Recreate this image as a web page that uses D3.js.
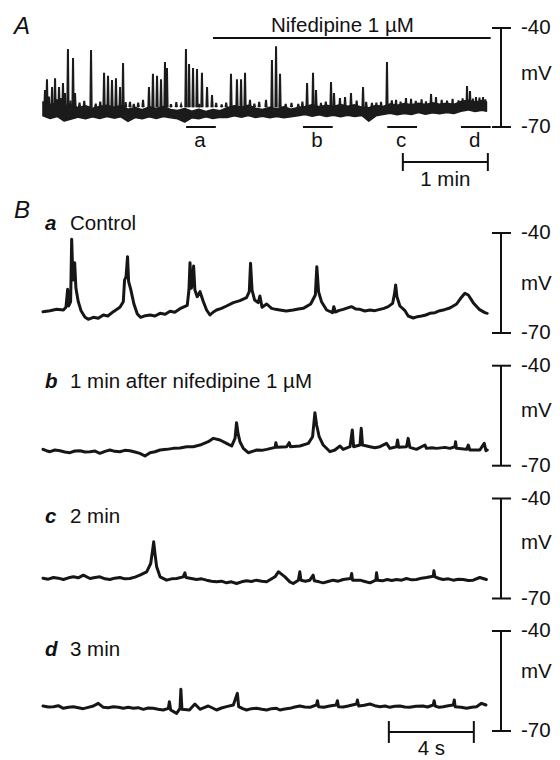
<!DOCTYPE html>
<html lang="en">
<head>
<meta charset="UTF-8">
<title>Nifedipine 1 µM traces</title>
<script src="https://d3js.org/d3.v7.min.js"></script>
<style>
  body { margin: 0; background: #fff; }
  svg { display: block; font-family: "Liberation Sans", Arial, sans-serif; }
  text { font-size: 20.5px; fill: #111; }
  .trace { fill: none; stroke: #161616; stroke-width: 3; stroke-linejoin: round; stroke-linecap: round; }
  .bar { stroke: #111; stroke-width: 2; fill: none; }
</style>
</head>
<body>
<div id="chart"></div>
<script>
// ---- panel A: slow record (time in s, potential in mV) ----
const bandTime = [0,5,10,15,20,25,30,35,40,45,50,55,60,65,70,75,80,85,90,95,100,105,110,115,120,125,130,135,140,145,150,155,160,165,170,175,180,185,190,195,200,205,210,215,220,225,230,235,240,245,250,255,260,265,270,275,280,285,290,295,300,305,310,313];
const bandTop = [-62.4,-63.2,-62.7,-63.6,-63.3,-64.2,-63.6,-64.3,-63.8,-63.4,-64.0,-63.5,-64.6,-64.1,-64.8,-63.9,-64.4,-63.8,-64.7,-65.0,-64.4,-65.2,-64.6,-65.3,-64.7,-65.1,-64.2,-63.6,-64.0,-63.4,-64.3,-64.7,-64.0,-64.5,-63.9,-64.6,-64.1,-63.8,-63.3,-63.9,-63.4,-63.8,-63.2,-63.7,-63.3,-64.0,-64.2,-63.5,-63.8,-63.0,-63.4,-62.9,-63.3,-62.8,-63.2,-62.7,-63.1,-62.8,-63.2,-62.3,-61.9,-62.4,-62.0,-62.4];
const bandBottom = [-66.6,-67.4,-66.8,-68.2,-67.6,-67.0,-67.5,-66.9,-67.4,-66.8,-67.3,-66.9,-68.3,-67.1,-67.5,-66.9,-67.4,-66.8,-67.2,-67.5,-68.5,-67.2,-67.5,-66.9,-67.4,-67.0,-67.1,-66.6,-67.0,-66.5,-67.1,-66.7,-67.2,-66.8,-67.2,-66.9,-66.6,-66.2,-66.7,-66.3,-66.8,-66.4,-66.9,-66.4,-66.8,-66.5,-68.2,-66.6,-66.2,-65.8,-66.3,-65.9,-66.2,-65.6,-66.1,-65.7,-66.0,-65.6,-65.9,-65.2,-64.8,-65.3,-64.9,-65.2];
const spikeTime = [1.4,2.8,6.4,8.5,11.3,14.1,15.5,17.6,21.2,22.6,33.9,43.1,45.9,48.7,51.5,54.4,56.5,61.4,70.6,74.8,77.6,80.5,83.3,86.1,87.5,100.9,103.1,105.9,108.7,112.2,115.8,119.3,132.7,136.9,139.8,142.6,146.1,157.4,161.6,164.5,167.3,186.4,190.6,192.7,203.3,205.4,209.6,213.2,217.4,225.9,232.2,238.6,242.8,249.2,256.2,259.8,273.9,277.4,299.3,301.4,305.6,310.6];
const spikePeak = [-58.8,-55.5,-57.9,-55.2,-57.9,-56.7,-59.7,-46.4,-49.1,-59.7,-46.7,-53.6,-54.5,-55.8,-55.2,-57.9,-50.6,-62.4,-61.8,-57.9,-53.9,-54.5,-55.5,-50.3,-52.1,-46.4,-50.9,-52.1,-52.4,-53.6,-57.9,-60.3,-53.9,-55.5,-55.5,-53.6,-61.8,-61.8,-49.7,-45.5,-53.9,-56.7,-53.6,-58.8,-56.4,-59.7,-61.2,-60.9,-59.7,-57.9,-62.7,-62.4,-50.3,-61.8,-61.2,-61.5,-60.0,-60.9,-57.6,-59.1,-60.9,-60.9];
// small events riding on the baseline
const smallTime = [4.2,9.8,12.6,19.4,25.8,29.1,37.2,40.4,58.3,64.1,67.2,90.3,94.1,97.5,110.4,122.2,126.1,129.3,149.2,152.6,171.3,175.4,180.2,183.1,196.2,199.6,221.4,228.1,235.3,246.2,252.4,263.1,267.2,270.3,281.4,285.2,289.1,293.3,296.2,303.4,308.1,312.2];
const smallPeak = [-60.8,-61.6,-61.2,-62.0,-62.6,-62.1,-62.9,-62.3,-62.5,-63.0,-62.6,-63.1,-62.5,-63.3,-63.0,-62.7,-63.2,-62.6,-62.9,-62.4,-63.0,-62.7,-63.0,-62.3,-62.7,-62.3,-62.0,-62.4,-62.6,-61.9,-62.3,-62.1,-61.6,-62.2,-61.8,-62.0,-61.5,-61.9,-61.3,-61.4,-61.1,-61.6];
const spikeBase = -64;
const segNames = ["a", "b", "c", "d"];
const segStart = [101, 183.5, 243, 295];
const segLength = 21;
const drugSpan = [120, 316];
const drugLabel = "Nifedipine 1 µM";
const minuteBar = [254, 314];

// ---- panel B: fast records (time in s, potential in mV) ----
const traceLetters = ["a", "b", "c", "d"];
const traceLabels = ["Control", "1 min after nifedipine 1 µM", "2 min", "3 min"];
const traceCtrl = [[0,-63.6],[0.33,-63.3],[0.64,-62.9],[0.96,-63.1],[1.08,-62.3],[1.16,-56.9],[1.21,-61.9],[1.30,-60.6],[1.35,-41.9],[1.41,-54.1],[1.49,-48.9],[1.55,-56.6],[1.66,-60.6],[1.79,-63.3],[1.98,-65.3],[2.13,-65.9],[2.37,-65.3],[2.60,-65.6],[2.84,-64.6],[3.05,-64.9],[3.31,-63.6],[3.62,-62.3],[3.78,-60.6],[3.84,-54.1],[3.91,-53.1],[3.98,-47.1],[4.03,-54.6],[4.13,-56.9],[4.28,-61.3],[4.44,-64.3],[4.60,-65.3],[4.82,-64.8],[5.04,-64.6],[5.27,-64.9],[5.51,-64.1],[5.75,-64.4],[5.98,-63.5],[6.20,-63.8],[6.45,-62.7],[6.79,-61.7],[6.87,-57.1],[6.92,-48.9],[6.98,-56.6],[7.04,-55.1],[7.09,-49.9],[7.15,-57.1],[7.26,-59.1],[7.39,-57.6],[7.55,-60.6],[7.70,-63.1],[7.86,-64.6],[8.02,-63.7],[8.17,-63.1],[8.40,-62.6],[8.64,-61.9],[8.96,-60.9],[9.27,-60.3],[9.58,-59.4],[9.71,-57.6],[9.77,-49.1],[9.84,-57.1],[9.96,-60.1],[10.13,-60.9],[10.21,-58.9],[10.31,-62.3],[10.53,-61.3],[10.76,-62.6],[10.95,-62.9],[11.15,-63.1],[11.45,-63.4],[11.78,-63.1],[12.02,-62.8],[12.25,-62.6],[12.60,-61.3],[12.82,-58.6],[12.89,-50.1],[12.97,-57.6],[13.11,-60.6],[13.35,-63.1],[13.63,-63.9],[13.69,-62.1],[13.76,-63.7],[13.95,-63.2],[14.13,-62.9],[14.52,-62.1],[14.72,-62.8],[14.92,-62.9],[15.15,-63.4],[15.39,-63.1],[15.62,-63.3],[15.86,-62.9],[16.05,-62.6],[16.25,-62.1],[16.46,-61.1],[16.55,-58.1],[16.60,-55.6],[16.66,-59.1],[16.80,-61.9],[17.04,-63.3],[17.19,-64.9],[17.43,-65.5],[17.62,-65.1],[17.82,-64.9],[18.02,-64.6],[18.21,-64.1],[18.45,-63.9],[18.68,-63.3],[18.90,-63.0],[19.15,-62.5],[19.47,-61.3],[19.66,-59.6],[19.86,-58.1],[20.02,-58.6],[20.25,-60.9],[20.53,-62.9],[20.80,-63.9],[20.91,-64.1]];
const trace1min = [[0,-65.1],[0.16,-65.5],[0.33,-65.8],[0.56,-65.3],[0.80,-65.5],[1.03,-65.9],[1.27,-66.1],[1.50,-65.6],[1.74,-65.5],[1.98,-65.9],[2.21,-65.8],[2.45,-65.6],[2.68,-66.3],[2.92,-65.7],[3.15,-65.3],[3.38,-65.7],[3.62,-65.8],[3.85,-65.4],[4.09,-65.5],[4.33,-65.9],[4.56,-66.3],[4.80,-67.1],[5.04,-66.1],[5.27,-65.8],[5.51,-65.3],[5.82,-65.1],[6.13,-64.8],[6.45,-64.7],[6.76,-64.3],[7.07,-64.3],[7.39,-63.8],[7.78,-62.8],[8.02,-61.8],[8.33,-62.3],[8.64,-63.3],[8.88,-64.1],[9.04,-61.8],[9.11,-57.1],[9.18,-60.3],[9.27,-62.8],[9.43,-64.8],[9.66,-66.1],[10.06,-65.3],[10.30,-65.4],[10.53,-65.1],[10.93,-64.5],[10.96,-63.1],[11.01,-64.5],[11.47,-64.3],[11.59,-63.1],[11.65,-64.3],[12.09,-64.1],[12.49,-63.3],[12.69,-61.3],[12.80,-54.1],[12.88,-57.8],[13.00,-61.3],[13.19,-63.8],[13.51,-65.8],[13.74,-65.3],[13.98,-64.1],[14.13,-65.1],[14.45,-64.3],[14.56,-59.3],[14.62,-64.3],[14.92,-63.8],[14.98,-58.8],[15.04,-63.8],[15.39,-64.3],[15.62,-64.6],[15.86,-64.3],[16.17,-63.3],[16.33,-64.8],[16.64,-64.3],[16.69,-62.3],[16.74,-64.5],[17.11,-64.3],[17.19,-61.8],[17.27,-64.5],[17.58,-65.1],[17.98,-63.8],[18.05,-64.8],[18.30,-64.6],[18.53,-64.8],[18.92,-64.5],[19.15,-64.8],[19.39,-64.3],[19.42,-62.8],[19.46,-64.8],[19.70,-64.9],[19.94,-65.1],[20.02,-63.8],[20.09,-65.3],[20.56,-65.3],[20.77,-63.3],[20.85,-65.5],[20.91,-65.3]];
const trace2min = [[0,-63.9],[0.25,-64.2],[0.49,-63.7],[0.72,-63.9],[0.96,-64.3],[1.20,-63.8],[1.43,-63.5],[1.66,-63.8],[1.90,-63.0],[2.21,-64.0],[2.45,-63.7],[2.68,-63.5],[2.92,-64.1],[3.15,-64.3],[3.38,-63.9],[3.62,-63.7],[3.85,-64.1],[4.09,-64.0],[4.33,-63.6],[4.56,-63.0],[4.88,-62.0],[5.07,-59.5],[5.16,-55.5],[5.21,-53.0],[5.27,-56.5],[5.35,-60.5],[5.51,-63.5],[5.82,-64.5],[6.05,-64.1],[6.29,-64.0],[6.60,-63.5],[6.68,-62.3],[6.73,-63.7],[6.98,-64.0],[7.23,-64.3],[7.46,-64.1],[7.70,-64.5],[7.93,-64.8],[8.17,-65.0],[8.40,-64.8],[8.64,-65.3],[8.87,-65.0],[9.11,-65.5],[9.35,-65.0],[9.58,-64.7],[9.81,-64.9],[10.05,-64.5],[10.30,-64.8],[10.53,-65.0],[10.92,-63.5],[11.08,-62.0],[11.15,-62.3],[11.39,-63.5],[11.62,-65.0],[11.78,-65.5],[12.02,-64.5],[12.09,-62.0],[12.14,-64.5],[12.35,-64.8],[12.56,-64.5],[12.72,-63.0],[12.77,-64.7],[13.00,-65.0],[13.19,-65.3],[13.42,-64.9],[13.66,-64.5],[13.90,-64.8],[14.13,-64.3],[14.48,-64.0],[14.53,-62.5],[14.57,-64.5],[14.92,-64.5],[15.15,-64.9],[15.39,-65.3],[15.67,-64.5],[15.70,-62.3],[15.75,-64.5],[15.98,-64.7],[16.20,-64.3],[16.42,-64.6],[16.64,-64.3],[16.88,-64.5],[17.11,-64.0],[17.35,-64.4],[17.58,-64.3],[17.82,-63.9],[18.05,-63.7],[18.37,-63.3],[18.40,-61.7],[18.45,-63.5],[18.65,-64.0],[18.84,-64.3],[19.08,-64.1],[19.31,-64.5],[19.55,-64.2],[19.78,-64.3],[20.02,-64.6],[20.25,-64.5],[20.56,-63.7],[20.87,-64.3]];
const trace3min = [[0,-62.5],[0.25,-62.8],[0.49,-62.7],[0.72,-62.4],[0.96,-63.2],[1.20,-62.9],[1.43,-62.7],[1.66,-63.0],[1.90,-63.3],[2.13,-62.9],[2.37,-62.5],[2.60,-61.7],[2.84,-62.9],[3.07,-63.0],[3.31,-62.7],[3.55,-62.9],[3.78,-63.2],[4.01,-62.9],[4.25,-63.2],[4.48,-63.0],[4.72,-63.5],[4.95,-63.1],[5.19,-63.2],[5.42,-63.5],[5.66,-63.7],[5.90,-63.2],[5.95,-61.2],[6.01,-63.7],[6.29,-64.7],[6.45,-63.2],[6.49,-57.5],[6.54,-63.5],[6.89,-63.7],[7.15,-61.9],[7.39,-63.5],[7.58,-63.0],[7.78,-62.5],[7.98,-63.1],[8.17,-63.7],[8.40,-63.1],[8.64,-62.7],[8.96,-62.2],[9.15,-58.7],[9.21,-62.7],[9.40,-63.3],[9.58,-63.7],[9.81,-63.3],[10.05,-63.2],[10.30,-63.5],[10.53,-63.7],[10.75,-63.3],[10.99,-63.2],[11.15,-63.7],[11.38,-63.4],[11.62,-63.2],[11.85,-62.8],[12.09,-62.5],[12.32,-62.8],[12.56,-62.9],[12.87,-62.2],[12.92,-60.9],[12.97,-62.7],[13.22,-62.9],[13.49,-62.5],[13.80,-62.2],[13.86,-60.9],[13.91,-62.7],[14.13,-62.8],[14.36,-62.5],[14.76,-61.9],[14.80,-60.7],[14.86,-62.5],[15.12,-62.3],[15.39,-61.9],[15.62,-62.4],[15.86,-62.7],[16.10,-62.5],[16.33,-62.9],[16.56,-62.6],[16.80,-62.5],[17.03,-62.8],[17.26,-62.9],[17.55,-62.6],[17.89,-62.5],[18.10,-62.8],[18.37,-62.2],[18.41,-60.9],[18.46,-62.5],[18.65,-62.9],[18.84,-62.7],[19.08,-62.4],[19.31,-62.2],[19.36,-60.7],[19.40,-62.7],[19.68,-62.9],[19.94,-63.2],[20.18,-62.9],[20.41,-62.7],[20.64,-61.7],[20.85,-62.2]];
const traces = [traceCtrl, trace1min, trace2min, trace3min];
const mvTicks = [-40, -70];
const secondsBar = [16.28, 20.28];

// ---- layout ----
const W = 560, H = 760;
const svg = d3.select("#chart").append("svg")
    .attr("width", W)
    .attr("height", H);

const xA = d3.scaleLinear().domain([0, 313.4]).range([43, 487]);
const yA = d3.scaleLinear().domain([-70, -40]).range([127, 28]);
const xB = d3.scaleLinear().domain([0, 20.9]).range([43, 487]);
const panelTops = [233, 365.7, 498.5, 631];
const mvLabelShift = [7, 1, 0, -3];
const labelBaselines = [230, 388, 523, 656];

// vertical mV calibration bar
function mvBar(y, shiftMv) {
    const g = svg.append("g");
    g.append("line").attr("class", "bar")
        .attr("x1", 501).attr("x2", 501)
        .attr("y1", y(mvTicks[0])).attr("y2", y(mvTicks[1]));
    g.selectAll(".tick").data(mvTicks).enter().append("line")
        .attr("class", "bar")
        .attr("x1", 492).attr("x2", 511)
        .attr("y1", d => y(d)).attr("y2", d => y(d));
    g.selectAll(".lab").data(mvTicks).enter().append("text")
        .attr("x", 521).attr("y", d => y(d) + 6)
        .text(d => d);
    g.append("text")
        .attr("x", 521)
        .attr("y", (y(mvTicks[0]) + y(mvTicks[1])) / 2 + shiftMv)
        .text("mV");
}

// ---------- A ----------
svg.append("text").attr("x", 14).attr("y", 34)
    .style("font-size", "24px").style("font-style", "italic").text("A");

const band = bandTime.map((t, i) => ({t: t, top: bandTop[i], bottom: bandBottom[i]}));
svg.append("path").datum(band)
    .attr("d", d3.area().x(d => xA(d.t)).y0(d => yA(d.bottom)).y1(d => yA(d.top)))
    .attr("fill", "#1b1b1b").attr("stroke", "#1b1b1b").attr("stroke-width", 1.6)
    .attr("stroke-linejoin", "round");

const spikeLine = d3.line().x(d => xA(d[0])).y(d => yA(d[1]));
const allSpikes = spikeTime.map((t, i) => [t, spikePeak[i]])
    .concat(smallTime.map((t, i) => [t, smallPeak[i]]));
svg.selectAll(".spike")
    .data(allSpikes)
  .enter().append("path")
    .attr("class", "spike")
    .attr("d", d => spikeLine([[d[0] - 0.45, spikeBase], [d[0], d[1]], [d[0] + 0.45, spikeBase]]))
    .attr("fill", "#1b1b1b").attr("stroke", "#1b1b1b").attr("stroke-width", 2);

// drug application bar
svg.append("line").attr("class", "bar")
    .attr("x1", xA(drugSpan[0])).attr("x2", xA(drugSpan[1]))
    .attr("y1", 38).attr("y2", 38);
svg.append("text").attr("x", 271).attr("y", 32).text(drugLabel);

// segments shown in B
svg.selectAll(".seg").data(segStart).enter().append("line")
    .attr("class", "bar")
    .attr("x1", d => xA(d)).attr("x2", d => xA(d + segLength))
    .attr("y1", 127).attr("y2", 127);
svg.selectAll(".segLab").data(segStart).enter().append("text")
    .attr("x", d => xA(d + segLength / 2) - 1).attr("y", 147)
    .attr("text-anchor", "middle")
    .text((d, i) => segNames[i]);

// 1 min bar
svg.append("line").attr("class", "bar")
    .attr("x1", xA(minuteBar[0])).attr("x2", xA(minuteBar[1]))
    .attr("y1", 162).attr("y2", 162);
svg.selectAll(".minEnd").data(minuteBar).enter().append("line")
    .attr("class", "bar")
    .attr("x1", d => xA(d)).attr("x2", d => xA(d))
    .attr("y1", 153).attr("y2", 171);
svg.append("text").attr("x", (xA(minuteBar[0]) + xA(minuteBar[1])) / 2).attr("y", 186)
    .attr("text-anchor", "middle").text("1 min");

mvBar(yA, 2.5);

// ---------- B ----------
svg.append("text").attr("x", 14).attr("y", 218)
    .style("font-size", "24px").style("font-style", "italic").text("B");

traces.forEach((tr, i) => {
    const y = d3.scaleLinear().domain([-70, -40]).range([panelTops[i] + 100, panelTops[i]]);
    svg.append("path").datum(tr)
        .attr("class", "trace")
        .attr("d", d3.line().x(d => xB(d[0])).y(d => y(d[1])));
    const lab = svg.append("text").attr("x", 45).attr("y", labelBaselines[i]);
    lab.append("tspan").style("font-weight", "bold").style("font-style", "italic")
        .text(traceLetters[i]);
    lab.append("tspan").attr("x", 70).text(traceLabels[i]);
    mvBar(y, mvLabelShift[i]);
});

// 4 s bar
svg.append("line").attr("class", "bar")
    .attr("x1", xB(secondsBar[0])).attr("x2", xB(secondsBar[1]))
    .attr("y1", 732).attr("y2", 732);
svg.selectAll(".secEnd").data(secondsBar).enter().append("line")
    .attr("class", "bar")
    .attr("x1", d => xB(d)).attr("x2", d => xB(d))
    .attr("y1", 721).attr("y2", 743);
svg.append("text").attr("x", (xB(secondsBar[0]) + xB(secondsBar[1])) / 2).attr("y", 755)
    .attr("text-anchor", "middle").text("4 s");
</script>
</body>
</html>
